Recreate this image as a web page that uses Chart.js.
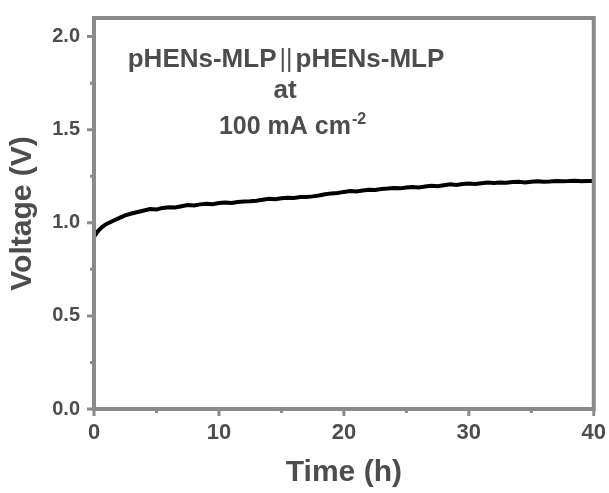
<!DOCTYPE html>
<html>
<head>
<meta charset="utf-8">
<script src="https://cdn.jsdelivr.net/npm/chart.js@4.4.0/dist/chart.umd.min.js"></script>
<style>
    html, body { margin: 0; padding: 0; background: #ffffff; }
    #wrap { width: 609px; height: 493px; }
</style>
</head>
<body>
<div id="wrap"><canvas id="chart" width="609" height="493"></canvas></div>
<script>
"use strict";

// time (h) and cell voltage (V)
var timeHours = [
    0, 0.25, 0.5, 0.75, 1, 1.5, 2, 2.5, 3, 3.5, 4, 4.5, 5, 5.5, 6, 6.5, 7, 7.5, 8, 8.5,
    9, 9.5, 10, 10.5, 11, 11.5, 12, 12.5, 13, 13.5, 14, 14.5, 15, 15.5, 16, 16.5, 17, 17.5,
    18, 18.5, 19, 19.5, 20, 20.5, 21, 21.5, 22, 22.5, 23, 23.5, 24, 24.5, 25, 25.5, 26, 26.5,
    27, 27.5, 28, 28.5, 29, 29.5, 30, 30.5, 31, 31.5, 32, 32.5, 33, 33.5, 34, 34.5, 35, 35.5,
    36, 36.5, 37, 37.5, 38, 38.5, 39, 39.5, 40
];
var voltage = [
    0.925, 0.950, 0.968, 0.982, 0.994, 1.010, 1.025, 1.040, 1.050, 1.058, 1.066, 1.074, 1.072, 1.080, 1.084, 1.082, 1.089, 1.095, 1.093, 1.099,
    1.102, 1.100, 1.106, 1.109, 1.107, 1.112, 1.114, 1.116, 1.119, 1.124, 1.129, 1.127, 1.132, 1.135, 1.133, 1.138, 1.139, 1.142,
    1.147, 1.153, 1.158, 1.160, 1.166, 1.171, 1.168, 1.174, 1.178, 1.176, 1.182, 1.184, 1.187, 1.185, 1.190, 1.192, 1.190, 1.195,
    1.199, 1.196, 1.202, 1.207, 1.203, 1.208, 1.211, 1.208, 1.213, 1.216, 1.214, 1.217, 1.215, 1.219, 1.220, 1.217, 1.221, 1.223,
    1.220, 1.222, 1.225, 1.223, 1.224, 1.226, 1.223, 1.225, 1.225
];

var xMajorTicks = [0, 10, 20, 30, 40];
var xMinorTicks = [5, 15, 25, 35];
var yMajorTicks = [0, 0.5, 1.0, 1.5, 2.0];
var yMinorTicks = [0.25, 0.75, 1.25, 1.75];

var FONT_FAMILY = "'Liberation Sans', Arial, sans-serif";
var TEXT_COLOR = "#4d4d4d";
var AXIS_COLOR = "#8a8a8a";

var points = timeHours.map(function(t, i)
{
    return { x: t, y: voltage[i] };
});

function drawText(ctx, text, x, y, size, weight)
{
    ctx.font = weight + " " + size + "px " + FONT_FAMILY;
    ctx.fillText(text, x, y);
    return ctx.measureText(text).width;
}

function textWidth(ctx, text, size, weight)
{
    ctx.font = weight + " " + size + "px " + FONT_FAMILY;
    return ctx.measureText(text).width;
}

var framePlugin =
{
    id: "frame",
    afterDatasetsDraw: function(chart)
    {
        var ctx = chart.ctx;
        var area = chart.chartArea;
        var xs = chart.scales.x;
        var ys = chart.scales.y;

        ctx.save();
        ctx.strokeStyle = AXIS_COLOR;
        ctx.lineWidth = 4;
        ctx.strokeRect(area.left, area.top, area.right - area.left, area.bottom - area.top);

        ctx.lineWidth = 3;
        ctx.beginPath();
        xMajorTicks.forEach(function(v)
        {
            var px = xs.getPixelForValue(v);
            ctx.moveTo(px, area.bottom);
            ctx.lineTo(px, area.bottom + 7);
        });
        xMinorTicks.forEach(function(v)
        {
            var px = xs.getPixelForValue(v);
            ctx.moveTo(px, area.bottom);
            ctx.lineTo(px, area.bottom + 4);
        });
        yMajorTicks.forEach(function(v)
        {
            var py = ys.getPixelForValue(v);
            ctx.moveTo(area.left, py);
            ctx.lineTo(area.left - 7, py);
        });
        yMinorTicks.forEach(function(v)
        {
            var py = ys.getPixelForValue(v);
            ctx.moveTo(area.left, py);
            ctx.lineTo(area.left - 4, py);
        });
        ctx.stroke();

        // annotation text
        ctx.fillStyle = TEXT_COLOR;
        ctx.textBaseline = "alphabetic";
        ctx.textAlign = "left";

        var w1 = textWidth(ctx, "pHENs-MLP", 26, "bold");
        var wBar = textWidth(ctx, "||", 25, "normal");
        var gap = 3;
        var x0 = 286 - (w1 * 2 + wBar + gap * 2) / 2;
        drawText(ctx, "pHENs-MLP", x0, 67, 26, "bold");
        drawText(ctx, "||", x0 + w1 + gap, 67, 25, "normal");
        drawText(ctx, "pHENs-MLP", x0 + w1 + wBar + gap * 2, 67, 26, "bold");

        ctx.textAlign = "center";
        drawText(ctx, "at", 285, 98, 26, "bold");

        ctx.textAlign = "left";
        var wMain = textWidth(ctx, "100 mA cm", 25, "bold");
        var wSup = textWidth(ctx, "-2", 16, "bold");
        var x3 = 292 - (wMain + wSup) / 2;
        drawText(ctx, "100 mA cm", x3, 134, 25, "bold");
        drawText(ctx, "-2", x3 + wMain + 1, 124, 16, "bold");
        ctx.restore();
    }
};

new Chart(document.getElementById("chart"),
{
    type: "line",
    data:
    {
        datasets: [
        {
            data: points,
            borderColor: "#000000",
            borderWidth: 4,
            pointRadius: 0,
            tension: 0,
            fill: false,
        }],
    },
    options:
    {
        responsive: false,
        animation: false,
        events: [],
        layout: { autoPadding: false, padding: { top: 15, right: 13, left: 0, bottom: 0 } },
        plugins:
        {
            legend: { display: false },
            tooltip: { enabled: false },
        },
        scales:
        {
            x:
            {
                type: "linear",
                min: 0,
                max: 40,
                afterFit: function(scale) { scale.height = 84; },
                grid: { display: false },
                border: { display: false },
                ticks:
                {
                    stepSize: 10,
                    padding: 3,
                    color: TEXT_COLOR,
                    font: { family: FONT_FAMILY, size: 22, weight: "bold" },
                    maxRotation: 0,
                },
                title:
                {
                    display: true,
                    text: "Time (h)",
                    color: TEXT_COLOR,
                    font: { family: FONT_FAMILY, size: 30, weight: "bold" },
                    padding: { top: 0, bottom: 2 },
                },
            },
            y:
            {
                type: "linear",
                min: 0,
                max: 2.1,
                afterFit: function(scale) { scale.width = 94; },
                grid: { display: false },
                border: { display: false },
                ticks:
                {
                    stepSize: 0.5,
                    includeBounds: false,
                    padding: 6,
                    color: TEXT_COLOR,
                    font: { family: FONT_FAMILY, size: 20, weight: "bold" },
                    callback: function(v) { return Number(v).toFixed(1); },
                },
                title:
                {
                    display: true,
                    text: "Voltage (V)",
                    color: TEXT_COLOR,
                    font: { family: FONT_FAMILY, size: 30, weight: "bold" },
                    padding: { top: 5, bottom: 0 },
                },
            },
        },
    },
    plugins: [framePlugin],
});
</script>
</body>
</html>
